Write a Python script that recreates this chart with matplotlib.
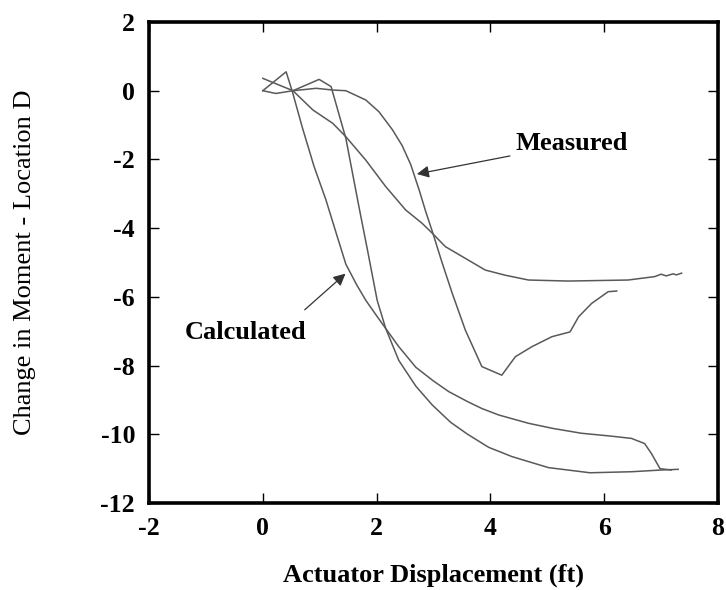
import matplotlib.pyplot as plt

# Measured response (two branches of the loop)
measured_a_x = [0.0, 0.23, 0.53, 0.94, 1.23, 1.46, 1.81, 2.04, 2.28, 2.45, 2.6, 2.75, 2.86, 2.98,
                3.15, 3.33, 3.56, 3.85, 4.2, 4.44, 4.73, 5.08, 5.4, 5.55, 5.78, 6.07, 6.22]
measured_a_y = [0.0, -0.08, 0.0, 0.07, 0.02, 0.0, -0.27, -0.61, -1.14, -1.6, -2.15, -2.9, -3.5, -4.1,
                -5.0, -5.9, -6.97, -8.03, -8.28, -7.74, -7.45, -7.16, -7.02, -6.58, -6.19, -5.85, -5.83]

measured_b_x = [0.0, 0.53, 0.88, 1.23, 1.46, 1.81, 2.16, 2.51, 2.8, 2.98, 3.21, 3.56, 3.91,
                4.26, 4.67, 5.37, 6.42, 6.89, 7.0, 7.09, 7.21, 7.27, 7.36]
measured_b_y = [0.36, 0.0, -0.56, -0.95, -1.34, -2.02, -2.79, -3.47, -3.86, -4.15, -4.54, -4.88, -5.22,
                -5.37, -5.51, -5.54, -5.51, -5.41, -5.34, -5.39, -5.33, -5.36, -5.31]

# Calculated response
calc_a_x = [0.0, 0.41, 0.52, 0.7, 0.9, 1.11, 1.3, 1.46, 1.65, 1.81, 2.0, 2.16, 2.39, 2.69,
            3.0, 3.27, 3.6, 3.85, 4.15, 4.67, 5.1, 5.6, 6.1, 6.48, 6.71, 6.83, 6.98, 7.18]
calc_a_y = [0.0, 0.55, -0.03, -1.1, -2.2, -3.18, -4.2, -5.05, -5.65, -6.1, -6.55, -6.92, -7.45, -8.05,
            -8.45, -8.76, -9.05, -9.25, -9.44, -9.68, -9.83, -9.97, -10.05, -10.12, -10.27, -10.56, -11.0, -11.04]

calc_b_x = [0.53, 0.99, 1.2, 1.46, 1.69, 1.84, 2.01, 2.16, 2.39, 2.69, 2.98, 3.3, 3.6,
            3.97, 4.38, 5.02, 5.75, 6.48, 7.0, 7.3]
calc_b_y = [0.0, 0.33, 0.12, -1.39, -3.38, -4.64, -6.1, -6.92, -7.85, -8.6, -9.15, -9.65, -10.0,
            -10.38, -10.65, -10.97, -11.12, -11.09, -11.04, -11.02]

plt.rcParams['font.family'] = 'Liberation Serif'
plt.rcParams['axes.unicode_minus'] = False

fig = plt.figure(figsize=(7.26, 5.90), dpi=100)
ax = fig.add_axes([149 / 726, 1 - 503 / 590, (718 - 149) / 726, (503 - 22) / 590])

line_kw = dict(color='0.35', lw=1.1)
ax.plot(measured_a_x, measured_a_y, **line_kw)
ax.plot(measured_b_x, measured_b_y, **line_kw)
ax.plot(calc_a_x, calc_a_y, **line_kw)
ax.plot(calc_b_x, calc_b_y, **line_kw)

ax.set_xlim(-2, 8)
ax.set_ylim(-12, 2)
ax.set_xticks([-2, 0, 2, 4, 6, 8])
ax.set_yticks([-12, -10, -8, -6, -4, -2, 0, 2])
ax.tick_params(direction='in', top=True, right=True, length=7, width=1, pad=10,
               labelsize=18.5)
for lbl in ax.get_xticklabels() + ax.get_yticklabels():
    lbl.set_fontweight('bold')
for sp in ax.spines.values():
    sp.set_linewidth(2.6)

ax.set_xlabel('Actuator Displacement (ft)', fontsize=19, fontweight='bold')
ax.set_ylabel('Change in Moment - Location D', fontsize=19)
ax.xaxis.set_label_coords(0.5, -(575 - 503) / 481, transform=ax.transAxes)
ax.yaxis.set_label_coords(-(149 - 25) / 569, 0.5, transform=ax.transAxes)
ax.xaxis.label.set_va('center')
ax.yaxis.label.set_va('center')

arrow = dict(arrowstyle='-|>', color='0.2', lw=0.9, mutation_scale=18)
ax.annotate('Measured', xy=(2.66, -2.44), xytext=(4.44, -1.55),
            fontsize=19, fontweight='bold', va='center', ha='left',
            arrowprops=arrow)
ax.annotate('', xy=(1.49, -5.27), xytext=(0.70, -6.43), arrowprops=arrow)
ax.text(-1.37, -7.05, 'Calculated', fontsize=19, fontweight='bold', va='center', ha='left')

fig.savefig('out.png', dpi=100)
